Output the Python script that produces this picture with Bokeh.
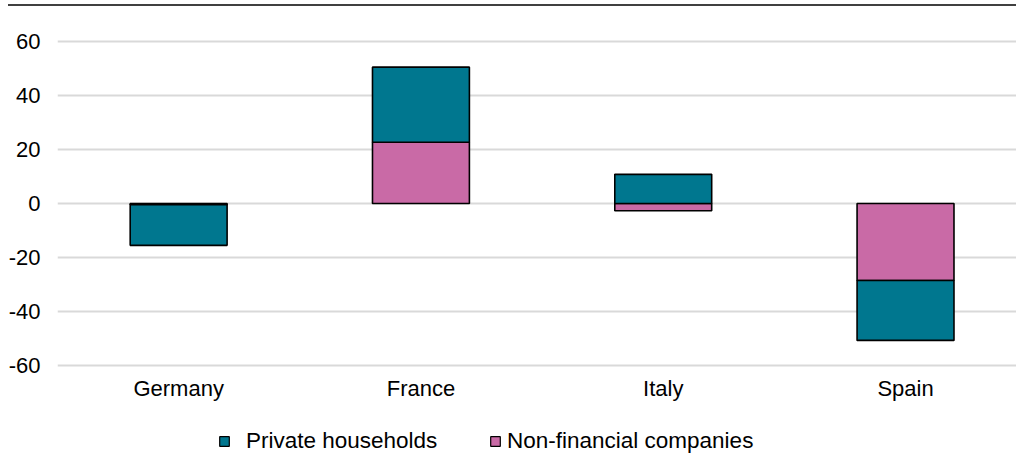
from bokeh.plotting import figure
from bokeh.models import (Range1d, FixedTicker, Legend, LegendItem, Div, ColumnDataSource)
from bokeh.layouts import column
from bokeh.embed import file_html
from bokeh.resources import INLINE

countries = ["Germany", "France", "Italy", "Spain"]
households = [-15.1, 27.8, 10.8, -22.2]
nonfin = [-0.4, 22.7, -2.7, -28.5]
y_ticks = [-60, -40, -20, 0, 20, 40, 60]
series_labels = ["Private households", "Non-financial companies"]

TEAL = "#00778F"
PINK = "#C96AA6"
FONT = "Liberation Sans"

xs = list(range(len(countries)))

# stack: non-financial next to zero, households stacked beyond it (per sign)
nf_bottom, nf_top, hh_bottom, hh_top = [], [], [], []
for h, n in zip(households, nonfin):
    pos, neg = 0.0, 0.0
    if n >= 0:
        nf_bottom.append(pos); nf_top.append(pos + n); pos += n
    else:
        nf_bottom.append(neg); nf_top.append(neg + n); neg += n
    if h >= 0:
        hh_bottom.append(pos); hh_top.append(pos + h)
    else:
        hh_bottom.append(neg); hh_top.append(neg + h)

W = 1016
PH = 412          # main plot height
LH = 36           # legend strip height
p = figure(width=W, height=PH, output_backend="svg", toolbar_location=None,
           x_range=Range1d(-0.5, 3.458), y_range=Range1d(-63.7, 72.96),
           min_border_left=57, min_border_right=0, min_border_top=0,
           min_border_bottom=43)
p.outline_line_color = None
p.background_fill_color = "white"
p.border_fill_color = "white"

src_nf = ColumnDataSource(dict(x=xs, bottom=nf_bottom, top=nf_top))
src_hh = ColumnDataSource(dict(x=xs, bottom=hh_bottom, top=hh_top))
p.vbar(x="x", bottom="bottom", top="top", width=0.40, source=src_nf,
       fill_color=PINK, line_color="black", line_width=1.6)
p.vbar(x="x", bottom="bottom", top="top", width=0.40, source=src_hh,
       fill_color=TEAL, line_color="black", line_width=1.6)

p.xgrid.grid_line_color = None
p.ygrid.grid_line_color = "#d9d9d9"
p.ygrid.grid_line_width = 2
p.yaxis.ticker = FixedTicker(ticks=y_ticks)
p.yaxis.major_label_overrides = {t: str(t) for t in y_ticks}
p.xaxis.ticker = FixedTicker(ticks=xs)
p.xaxis.major_label_overrides = {i: c for i, c in enumerate(countries)}

for ax in (p.xaxis[0], p.yaxis[0]):
    ax.axis_line_color = None
    ax.major_tick_line_color = None
    ax.minor_tick_line_color = None
    ax.major_tick_out = 0
    ax.major_tick_in = 0
    ax.minor_tick_out = 0
    ax.minor_tick_in = 0
    ax.major_label_text_font = FONT
    ax.major_label_text_font_size = "22px"
    ax.major_label_text_color = "black"
p.yaxis.major_label_standoff = 17
p.xaxis.major_label_standoff = 0

# legend strip (separate canvas so the legend is not clipped by the main frame)
q = figure(width=W, height=LH, output_backend="svg", toolbar_location=None,
           x_range=Range1d(0, 1), y_range=Range1d(0, 1),
           x_axis_location=None, y_axis_location=None,
           min_border=0)
q.outline_line_color = None
q.grid.grid_line_color = None
nan = float("nan")
key_src = ColumnDataSource(dict(x=[nan], bottom=[nan], top=[nan]))
k_hh = q.vbar(x="x", bottom="bottom", top="top", width=1, source=key_src,
              fill_color=TEAL, line_color="black", line_width=1.2)
k_nf = q.vbar(x="x", bottom="bottom", top="top", width=1, source=key_src,
              fill_color=PINK, line_color="black", line_width=1.2)

# q's frame is aligned with p's frame (left edge at x=57)
leg1 = Legend(items=[LegendItem(label=series_labels[0], renderers=[k_hh], index=0)],
              location=(161, 0), label_standoff=16)
leg2 = Legend(items=[LegendItem(label=series_labels[1], renderers=[k_nf], index=0)],
              location=(432, 0), label_standoff=6)
for lg in (leg1, leg2):
    lg.glyph_width = 12
    lg.glyph_height = 12
    lg.label_height = 22
    lg.padding = 0
    lg.margin = 0
    lg.spacing = 0
    lg.border_line_color = None
    lg.background_fill_alpha = 0
    lg.label_text_font = FONT
    lg.label_text_font_size = "22.5px"
    lg.label_text_color = "black"
    q.add_layout(lg, "center")

top_line = Div(text="", width=1008, height=2, margin=(4, 0, 0, 8),
               styles={"background-color": "#404040"})

layout = column(top_line, p, q, spacing=0)
open("out.html", "w").write(file_html(layout, INLINE))
